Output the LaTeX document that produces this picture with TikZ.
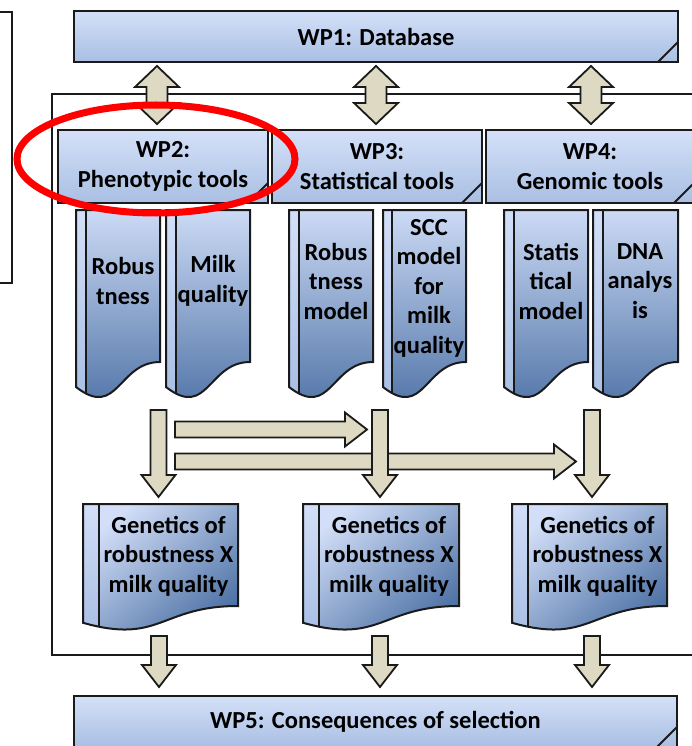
\documentclass[tikz,border=0pt]{standalone}
\usepackage{fontspec}
\setmainfont{Carlito}
\usetikzlibrary{calc}

\definecolor{boxtop}{HTML}{D4E0F8}
\definecolor{boxbot}{HTML}{A9BFE3}
\definecolor{doctop}{HTML}{CCDAF5}
\definecolor{docbot}{HTML}{4A6FA3}
\definecolor{striptop}{HTML}{D3DFF8}
\definecolor{stripbot}{HTML}{A4BBE2}
\definecolor{gtop}{HTML}{D3DFF8}
\definecolor{gbot}{HTML}{4A6FA3}
\definecolor{tanfill}{HTML}{DDD9C3}
\definecolor{edge}{HTML}{1A1A1A}

\newcommand{\diafont}{\fontsize{24.5}{29.5}\selectfont\bfseries}

% document shape with a light strip on the left
\newcommand{\docshape}[6]{%
  \pgfmathsetmacro{\dmid}{(#1+#3)/2}%
  \pgfmathsetmacro{\dlow}{#2+(#4-#2)*1.38}%
  \pgfmathsetmacro{\dleft}{#2+(#4-#2)*1.1646}%
  \path[#6] (#1,#2) -- (#3,#2) -- (#3,#4) .. controls (\dmid,#4) and (\dmid,\dlow) .. (#1,\dleft) -- cycle;
  \begin{scope}
    \clip (#1,#2) -- (#3,#2) -- (#3,#4) .. controls (\dmid,#4) and (\dmid,\dlow) .. (#1,\dleft) -- cycle;
    \shade[top color=striptop, bottom color=stripbot] (#1,#2) rectangle ({#1+#5},\dlow);
    \draw[outl] ({#1+#5},#2) -- ({#1+#5},\dlow);
  \end{scope}
  \draw[outl] (#1,#2) -- (#3,#2) -- (#3,#4) .. controls (\dmid,#4) and (\dmid,\dlow) .. (#1,\dleft) -- cycle;
}

\tikzset{
  outl/.style={draw=edge, line width=2pt},
  wpbox/.style={outl, top color=boxtop, bottom color=boxbot, inner sep=0pt, outer sep=0pt, align=center, font=\diafont},
  doctext/.style={align=center, font=\diafont, inner sep=0pt},
  docfill/.style={top color=doctop, bottom color=docbot},
  gdocfill/.style={top color=gtop, bottom color=gbot, shading angle=40},
  fatarrow/.style={draw=edge, line width=1.8pt, fill=tanfill,
    to path={let \p1=(\tikztostart), \p2=(\tikztotarget), \n1={atan2(\y2-\y1,\x2-\x1)}, \n2={veclen(\x2-\x1,\y2-\y1)} in
      {[shift={(\p1)}, rotate=\n1] (0,8) -- ({\n2-22},8) -- ({\n2-22},17) -- (\n2,0) -- ({\n2-22},-17) -- ({\n2-22},-8) -- (0,-8) -- cycle}}},
  dblarrow/.style={draw=edge, line width=1.8pt, fill=tanfill,
    to path={let \p1=(\tikztostart), \p2=(\tikztotarget), \n1={atan2(\y2-\y1,\x2-\x1)}, \n2={veclen(\x2-\x1,\y2-\y1)} in
      {[shift={(\p1)}, rotate=\n1] (0,0) -- (21,22) -- (21,10.5) -- ({\n2-21},10.5) -- ({\n2-21},22) -- (\n2,0) -- ({\n2-21},-22) -- ({\n2-21},-10.5) -- (21,-10.5) -- (21,-22) -- cycle}}}
}

\begin{document}
\begin{tikzpicture}[x=1pt, y=-1pt]
\useasboundingbox (0,0) rectangle (692,746);
\clip (0,0) rectangle (692,746);

% frames
\draw[draw=edge, line width=2.5pt] (-5,12) -- (12,12) -- (12,283) -- (-5,283);
\draw[draw=edge, line width=1.8pt] (52,94) rectangle (705,655);

% work packages
\node[wpbox, minimum width=604, minimum height=51] (wp1) at (376,36.5) {WP1: Database};
\node[wpbox, minimum width=210, minimum height=73] (wp2) at (163,166.5) {WP2:\\Phenotypic tools};
\node[wpbox, minimum width=210, minimum height=73] (wp3) at (377,166.5) {WP3:\\Statistical tools};
\node[wpbox, minimum width=208, minimum height=73] (wp4) at (590,166.5) {WP4:\\Genomic tools};
\node[wpbox, minimum width=603, minimum height=51] (wp5) at (375.5,721.5) {WP5: Consequences of selection};
\foreach \w in {wp1,wp2,wp3,wp4,wp5}
  \draw[outl] ([xshift=-20pt]\w.south east) -- ([yshift=20pt]\w.south east);

% tools
\docshape{76}{210}{160}{362}{10}{docfill}
\docshape{166}{210}{250}{362}{10}{docfill}
\docshape{289}{210}{373}{362}{10}{docfill}
\docshape{383}{210}{466}{362}{9}{docfill}
\docshape{504}{210}{588}{362}{10}{docfill}
\docshape{593}{210}{678}{362}{10}{docfill}
\node[doctext] (rob) at (123,281) {Robus\\tness};
\node[doctext] (milk) at (213,281) {Milk\\quality};
\node[doctext] (robmod) at (336,281) {Robus\\tness\\model};
\node[doctext] (scc) at (429,288) {SCC\\model\\for\\milk\\quality};
\node[doctext] (statmod) at (551,281) {Statis\\tical\\model};
\node[doctext] (dna) at (640,281) {DNA\\analys\\is};

% results
\docshape{83}{504}{238}{606}{16}{gdocfill}
\docshape{303}{504}{459}{606}{16}{gdocfill}
\docshape{512}{504}{667}{606}{16}{gdocfill}
\node[doctext] (gen1) at (168.5,556) {Genetics of\\robustness X\\milk quality};
\node[doctext] (gen2) at (389,556) {Genetics of\\robustness X\\milk quality};
\node[doctext] (gen3) at (597.5,556) {Genetics of\\robustness X\\milk quality};

% arrow ends
\coordinate (d1a) at (157,66);    \coordinate (d1b) at (157,124);
\coordinate (d2a) at (376,66);    \coordinate (d2b) at (376,124);
\coordinate (d3a) at (591,66);    \coordinate (d3b) at (591,124);
\coordinate (h1a) at (175,429.5); \coordinate (h1b) at (367,429.5);
\coordinate (h2a) at (175,461.5); \coordinate (h2b) at (576,461.5);
\coordinate (m1a) at (158.5,410); \coordinate (m1b) at (158.5,497);
\coordinate (m2a) at (380,410);   \coordinate (m2b) at (380,497);
\coordinate (m3a) at (592,410);   \coordinate (m3b) at (592,497);
\coordinate (b1a) at (159,636);   \coordinate (b1b) at (159,687);
\coordinate (b2a) at (380,636);   \coordinate (b2b) at (380,687);
\coordinate (b3a) at (592,636);   \coordinate (b3b) at (592,687);

\draw[fatarrow] (h1a) to (h1b);
\draw[fatarrow] (h2a) to (h2b);
\foreach \a in {m1,m2,m3,b1,b2,b3}
  \draw[fatarrow] (\a a) to (\a b);
\foreach \a in {d1,d2,d3}
  \draw[dblarrow] (\a a) to (\a b);

% highlight
\draw[red, line width=7pt] (156,159) ellipse [x radius=139, y radius=54];
\end{tikzpicture}
\end{document}
